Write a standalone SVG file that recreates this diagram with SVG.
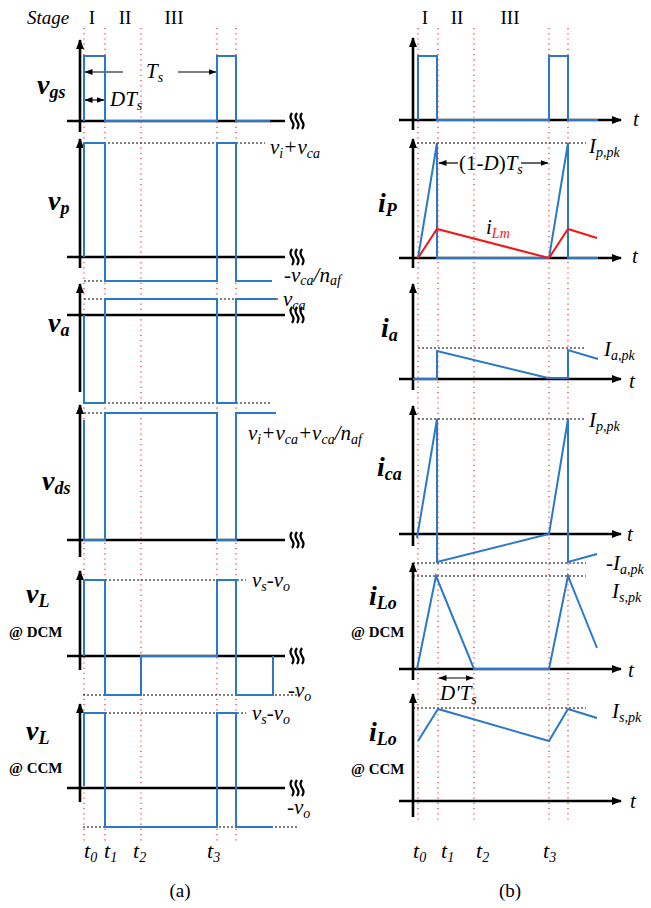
<svg xmlns="http://www.w3.org/2000/svg" width="651" height="908" viewBox="0 0 651 908" font-family="'Liberation Serif', 'Times New Roman', serif">
<style>
.ax{stroke:#000;stroke-width:2.6;fill:none}
.sig{stroke:#2a78c8;stroke-width:2;fill:none;stroke-linejoin:miter}
.lm{stroke:#f01818;stroke-width:2;fill:none}
.ref{stroke:#000;stroke-width:1;stroke-dasharray:2 2;fill:none}
.red{stroke:#ff2a2a;stroke-width:1.2;stroke-dasharray:1.2 4;fill:none}
.thin{stroke:#000;stroke-width:1.2;fill:none}
.brk{stroke:#000;stroke-width:2.2;fill:none}
text{font-family:"Liberation Serif","Times New Roman",serif;fill:#000}
.lv{font-size:21px;font-style:italic}
.sb{font-size:14px}
.pl{font-size:28px;font-style:italic;font-weight:bold}
.ps{font-size:18px}
.md{font-size:15px;font-weight:bold;font-style:normal}
.up{font-size:19px}
.tl{font-size:22px;font-style:italic}
</style>
<defs>
<marker id="ah" markerWidth="10" markerHeight="8" refX="9" refY="4" orient="auto" markerUnits="userSpaceOnUse"><path d="M0,0 L10,4 L0,8 z" fill="#000"/></marker>
<marker id="sa" markerWidth="8" markerHeight="6" refX="7.5" refY="3" orient="auto-start-reverse" markerUnits="userSpaceOnUse"><path d="M0,0 L8,3 L0,6 z" fill="#000"/></marker>
<g id="brk"><path class="brk" d="M-5,-8 q-3,4 0,8 q3,4 0,8"/><path class="brk" d="M0,-8 q-3,4 0,8 q3,4 0,8"/><path class="brk" d="M5,-8 q-3,4 0,8 q3,4 0,8"/></g>
</defs>
<rect width="651" height="908" fill="#fff"/>

<g id="stage-labels">
<text x="27" y="24" class="up" font-style="italic">Stage</text>
<text x="92" y="24" class="up" text-anchor="middle">I</text>
<text x="125" y="24" class="up" text-anchor="middle">II</text>
<text x="174" y="24" class="up" text-anchor="middle">III</text>
<text x="425" y="24" class="up" text-anchor="middle">I</text>
<text x="457" y="24" class="up" text-anchor="middle">II</text>
<text x="510" y="24" class="up" text-anchor="middle">III</text>
</g>

<g id="time-markers">
<path class="red" d="M84,28 V842 M105,28 V842 M141,28 V842 M217,28 V842 M236,28 V842"/>
<path class="red" d="M418,28 V822 M438,28 V822 M474,28 V822 M549,28 V822 M568,28 V822"/>
<text x="84" y="858" class="tl">t<tspan class="sb" font-size="15" dy="4">0</tspan></text>
<text x="104" y="858" class="tl">t<tspan class="sb" font-size="15" dy="4">1</tspan></text>
<text x="133" y="858" class="tl">t<tspan class="sb" font-size="15" dy="4">2</tspan></text>
<text x="207" y="858" class="tl">t<tspan class="sb" font-size="15" dy="4">3</tspan></text>
<text x="413" y="858" class="tl">t<tspan class="sb" font-size="15" dy="4">0</tspan></text>
<text x="441" y="858" class="tl">t<tspan class="sb" font-size="15" dy="4">1</tspan></text>
<text x="476" y="858" class="tl">t<tspan class="sb" font-size="15" dy="4">2</tspan></text>
<text x="543" y="858" class="tl">t<tspan class="sb" font-size="15" dy="4">3</tspan></text>
<text x="180" y="897" class="up" font-size="20" text-anchor="middle">(a)</text>
<text x="510" y="897" class="up" font-size="20" text-anchor="middle">(b)</text>
</g>

<g id="connectors">
<path class="ax" d="M67,121 H285"/><path class="ax" d="M80,132 V40" marker-end="url(#ah)"/>
<path class="ax" d="M67,257 H285"/><path class="ax" d="M80,268 V139" marker-end="url(#ah)"/>
<path class="ax" d="M67,315 H285"/><path class="ax" d="M80,392 V284" marker-end="url(#ah)"/>
<path class="ax" d="M67,540 H285"/><path class="ax" d="M80,557 V405" marker-end="url(#ah)"/>
<path class="ax" d="M67,656 H285"/><path class="ax" d="M80,670 V571" marker-end="url(#ah)"/>
<path class="ax" d="M67,788 H285"/><path class="ax" d="M80,802 V704" marker-end="url(#ah)"/>
<use href="#brk" x="297" y="121"/><use href="#brk" x="297" y="257"/><use href="#brk" x="297" y="315"/>
<use href="#brk" x="297" y="540"/><use href="#brk" x="297" y="656"/><use href="#brk" x="297" y="788"/>
<path class="ax" d="M399,120 H621" marker-end="url(#ah)"/><path class="ax" d="M413,130 V38" marker-end="url(#ah)"/>
<path class="ax" d="M399,258 H621" marker-end="url(#ah)"/><path class="ax" d="M413,268 V139" marker-end="url(#ah)"/>
<path class="ax" d="M399,379 H621" marker-end="url(#ah)"/><path class="ax" d="M413,390 V284" marker-end="url(#ah)"/>
<path class="ax" d="M399,534 H621" marker-end="url(#ah)"/><path class="ax" d="M413,546 V406" marker-end="url(#ah)"/>
<path class="ax" d="M399,669 H621" marker-end="url(#ah)"/><path class="ax" d="M413,680 V563" marker-end="url(#ah)"/>
<path class="ax" d="M399,801 H621" marker-end="url(#ah)"/><path class="ax" d="M413,817 V694" marker-end="url(#ah)"/>
<path class="ref" d="M84,143 H265 M84,281 H105 M84,299 H278 M84,403 H272 M84,413 H105 M105,580 H246 M83,695 H297 M105,713 H246 M83,827 H297"/>
<path class="ref" d="M413,143 H586 M418,348 H586 M418,419 H586 M413,563 H586 M413,576 H586 M413,708 H586"/>
<path class="thin" d="M123,72 H85" marker-end="url(#sa)"/>
<path class="thin" d="M178,72 H216" marker-end="url(#sa)"/>
<path class="thin" d="M85,100 H104" marker-start="url(#sa)" marker-end="url(#sa)"/>
<path class="thin" d="M458,163 H439" marker-end="url(#sa)"/>
<path class="thin" d="M521,163 H548" marker-end="url(#sa)"/>
<path class="thin" d="M439,678 H473" marker-start="url(#sa)" marker-end="url(#sa)"/>
</g>

<g id="node-vgs">
<path class="sig" d="M84,121 V56 H105 V121 H217 V56 H236 V121 H270"/>
<text x="37" y="94" class="pl">v<tspan class="ps" dy="4">gs</tspan></text>
<text x="146" y="78" class="lv">T<tspan class="sb" dy="4">s</tspan></text>
<text x="110" y="106" class="lv">DT<tspan class="sb" dy="4">s</tspan></text>
</g>

<g id="node-vp">
<path class="sig" d="M84,257 V143 H105 V281 H217 V143 H236 V281 H272"/>
<text x="48" y="210" class="pl">v<tspan class="ps" dy="4">p</tspan></text>
<text x="270" y="154" class="lv">v<tspan class="sb" dy="4">i</tspan><tspan dy="-4">+v</tspan><tspan class="sb" dy="4">ca</tspan></text>
<text x="284" y="282" class="lv" font-size="20">-v<tspan class="sb" dy="3">ca</tspan><tspan dy="-3">/n</tspan><tspan class="sb" dy="3">af</tspan></text>
</g>

<g id="node-va">
<path class="sig" d="M84,315 V403 H105 V299 H217 V403 H236 V299 H276"/>
<text x="48" y="332" class="pl">v<tspan class="ps" dy="4">a</tspan></text>
<text x="283" y="306" class="lv">v<tspan class="sb" dy="4">ca</tspan></text>
</g>

<g id="node-vds">
<path class="sig" d="M84,420 V540 H105 V413 H217 V540 H236 V413 H276"/>
<text x="42" y="490" class="pl">v<tspan class="ps" dy="4">ds</tspan></text>
<text x="248" y="440" class="lv">v<tspan class="sb" dy="4">i</tspan><tspan dy="-4">+v</tspan><tspan class="sb" dy="4">ca</tspan><tspan dy="-4">+v</tspan><tspan class="sb" dy="4">ca</tspan><tspan dy="-4">/n</tspan><tspan class="sb" dy="4">af</tspan></text>
</g>

<g id="node-vL-dcm">
<path class="sig" d="M84,656 V580 H105 V695 H141 V656 H217 V580 H236 V695 H273 V656"/>
<text x="26" y="603" class="pl">v<tspan class="ps" dy="4">L</tspan></text>
<text x="9" y="637" class="md">@ DCM</text>
<text x="252" y="587" class="lv">v<tspan class="sb" dy="4">s</tspan><tspan dy="-4">-v</tspan><tspan class="sb" dy="4">o</tspan></text>
<text x="288" y="697" class="lv">-v<tspan class="sb" dy="4">o</tspan></text>
</g>

<g id="node-vL-ccm">
<path class="sig" d="M84,786 V713 H105 V827 H217 V713 H236 V827 H273"/>
<text x="26" y="740" class="pl">v<tspan class="ps" dy="4">L</tspan></text>
<text x="9" y="773" class="md">@ CCM</text>
<text x="252" y="720" class="lv">v<tspan class="sb" dy="4">s</tspan><tspan dy="-4">-v</tspan><tspan class="sb" dy="4">o</tspan></text>
<text x="287" y="814" class="lv">-v<tspan class="sb" dy="4">o</tspan></text>
</g>

<g id="node-vgs-right">
<path class="sig" d="M418,120 V56 H437 V120 H549 V56 H568 V120 H598"/>
<text x="633" y="126" class="lv" font-size="24">t</text>
</g>

<g id="node-iP">
<path class="sig" d="M418,258 L437,143 V258 H549 L568,143 V258 H598"/>
<path class="lm" d="M418,258 L437,229 L549,258 L568,229 L597,238"/>
<text x="378" y="212" class="pl">i<tspan class="ps" dy="4">P</tspan></text>
<text x="486" y="234" class="lv" fill="#f01818" font-size="23">i<tspan class="sb" font-size="15" dy="4" fill="#f01818">Lm</tspan></text>
<text x="459" y="170" class="lv" font-size="19"><tspan font-style="normal">(1-</tspan>D<tspan font-style="normal">)</tspan>T<tspan class="sb" dy="4">s</tspan></text>
<text x="589" y="153" class="lv">I<tspan class="sb" dy="4">p,pk</tspan></text>
<text x="632" y="263" class="lv" font-size="24">t</text>
</g>

<g id="node-ia">
<path class="sig" d="M413,379 H437 V351 L548,378 H568 V350 L598,359"/>
<text x="381" y="337" class="pl">i<tspan class="ps" dy="4">a</tspan></text>
<text x="604" y="356" class="lv">I<tspan class="sb" dy="4">a,pk</tspan></text>
<text x="629" y="388" class="lv" font-size="24">t</text>
</g>

<g id="node-ica">
<path class="sig" d="M417,538 L437,419 V562 L549,534 L568,419 V562 L597,554"/>
<text x="377" y="476" class="pl">i<tspan class="ps" dy="4">ca</tspan></text>
<text x="589" y="427" class="lv">I<tspan class="sb" dy="4">p,pk</tspan></text>
<text x="606" y="570" class="lv">-I<tspan class="sb" dy="4">a,pk</tspan></text>
<text x="627" y="541" class="lv" font-size="24">t</text>
</g>

<g id="node-iLo-dcm">
<path class="sig" d="M417,669 L436,576 L474,669 H549 L568,576 L597,648"/>
<text x="369" y="605" class="pl">i<tspan class="ps" dy="4">Lo</tspan></text>
<text x="351" y="637" class="md">@ DCM</text>
<text x="612" y="598" class="lv">I<tspan class="sb" dy="4">s,pk</tspan></text>
<text x="440" y="700" class="lv" font-size="19">D'T<tspan class="sb" dy="4">s</tspan></text>
<text x="628" y="677" class="lv" font-size="24">t</text>
</g>

<g id="node-iLo-ccm">
<path class="sig" d="M418,741 L438,709 L549,741 L568,709 L597,718"/>
<text x="369" y="741" class="pl">i<tspan class="ps" dy="4">Lo</tspan></text>
<text x="351" y="774" class="md">@ CCM</text>
<text x="612" y="718" class="lv">I<tspan class="sb" dy="4">s,pk</tspan></text>
<text x="630" y="808" class="lv" font-size="24">t</text>
</g>
</svg>
